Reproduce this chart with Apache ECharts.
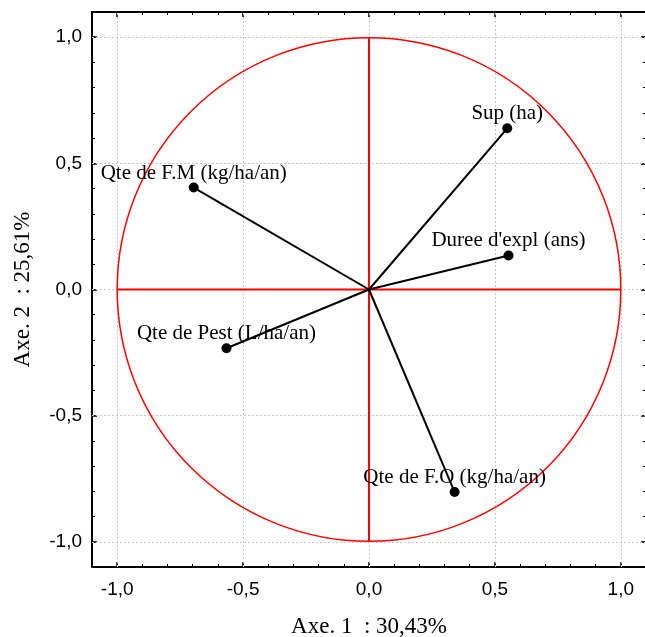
<!DOCTYPE html>
<html>
<head>
<meta charset="utf-8">
<script src="https://cdn.jsdelivr.net/npm/echarts@6/dist/echarts.min.js"></script>
<style>html,body{margin:0;padding:0;background:#fff;overflow:hidden;}#c{width:645px;height:637px;}</style>
</head>
<body>
<div id="c"></div>
<script>
// Variable names and loadings
const variables = ['Sup (ha)', "Duree d'expl (ans)", 'Qte de F.M (kg/ha/an)', 'Qte de Pest (L/ha/an)', 'Qte de F.O (kg/ha/an)'];
const axis1 = [0.549, 0.554, -0.696, -0.566, 0.340];
const axis2 = [0.639, 0.135, 0.404, -0.233, -0.803];
const majorTicks = [-1.0, -0.5, 0.0, 0.5, 1.0];
const axisMin = -1.1, axisMax = 1.1;
const xName = 'Axe. 1  : 30,43%';
const yName = 'Axe. 2  : 25,61%';

const fmt = v => Number(v).toFixed(1).replace('.', ',');
const tickFont = { fontFamily: 'Liberation Sans, Arial, sans-serif', fontSize: 19, color: '#000' };
const serif = 'Liberation Serif, Times New Roman, serif';

function majorAxis(pos, withLabels, isX) {
  return {
    type: 'value', position: pos, min: axisMin, max: axisMax, gridIndex: 0,
    axisLine: { show: true, onZero: false, lineStyle: { color: '#000', width: 2 } },
    axisTick: { show: true, inside: true, length: 5, customValues: majorTicks, lineStyle: { color: '#000', width: 1.5 } },
    axisLabel: withLabels ? Object.assign({ show: true, customValues: majorTicks, formatter: fmt, margin: isX ? 13 : 10 }, tickFont) : { show: false },
    splitLine: { show: false }
  };
}
function minorAxis(pos) {
  return {
    type: 'value', position: pos, min: axisMin, max: axisMax, interval: 0.1, gridIndex: 0,
    axisLine: { show: false, onZero: false },
    axisTick: { show: true, inside: true, length: 3, lineStyle: { color: '#000', width: 1 } },
    axisLabel: { show: false }, splitLine: { show: false }
  };
}

const xMain = majorAxis('bottom', true, true);
xMain.name = xName; xMain.nameLocation = 'middle'; xMain.nameGap = 48;
xMain.nameTextStyle = { fontFamily: serif, fontSize: 23, color: '#000' };
const yMain = majorAxis('left', true, false);
yMain.name = yName; yMain.nameLocation = 'middle'; yMain.nameGap = 58;
yMain.nameTextStyle = { fontFamily: serif, fontSize: 23, color: '#000' };

const series = [];
// grid lines
series.push({
  type: 'line', xAxisIndex: 0, yAxisIndex: 0, data: [], silent: true, z: 1,
  markLine: {
    silent: true, symbol: 'none', label: { show: false }, z: 1,
    lineStyle: { color: '#c8c8c8', type: [2, 2], width: 1 },
    data: majorTicks.map(v => ({ xAxis: v })).concat(majorTicks.map(v => ({ yAxis: v })))
  }
});
// unit circle
series.push({
  type: 'custom', xAxisIndex: 0, yAxisIndex: 0, z: 2, silent: true,
  data: [[0, 0]],
  renderItem: function (params, api) {
    const c = api.coord([0, 0]);
    const r = api.size([1, 1])[0];
    return { type: 'circle', shape: { cx: c[0], cy: c[1], r: r }, style: { fill: 'none', stroke: '#ff0000', lineWidth: 1.5 } };
  }
});
// red axes
series.push({ type: 'line', xAxisIndex: 0, yAxisIndex: 0, z: 3, silent: true, symbol: 'none', data: [[-1, 0], [1, 0]], lineStyle: { color: '#ff0000', width: 2 } });
series.push({ type: 'line', xAxisIndex: 0, yAxisIndex: 0, z: 3, silent: true, symbol: 'none', data: [[0, -1], [0, 1]], lineStyle: { color: '#ff0000', width: 2 } });
// vectors
variables.forEach((name, i) => {
  series.push({
    type: 'line', xAxisIndex: 0, yAxisIndex: 0, z: 4, silent: true,
    data: [
      { value: [0, 0], symbol: 'none' },
      { value: [axis1[i], axis2[i]], symbol: 'circle', symbolSize: 10,
        label: { show: true, position: 'top', distance: -1, formatter: name, fontFamily: serif, fontSize: 21, color: '#000' } }
    ],
    showSymbol: true,
    itemStyle: { color: '#000' },
    lineStyle: { color: '#000', width: 2 }
  });
});

const chart = echarts.init(document.getElementById('c'), null, { renderer: 'canvas' });
chart.setOption({
  animation: false,
  backgroundColor: '#fff',
  grid: { left: 92, top: 12, width: 554, height: 555, containLabel: false, outerBoundsMode: 'none' },
  xAxis: [xMain, minorAxis('bottom'), majorAxis('top', false, true), minorAxis('top')],
  yAxis: [yMain, minorAxis('left'), majorAxis('right', false, false), minorAxis('right')],
  series: series
});
</script>
</body>
</html>
